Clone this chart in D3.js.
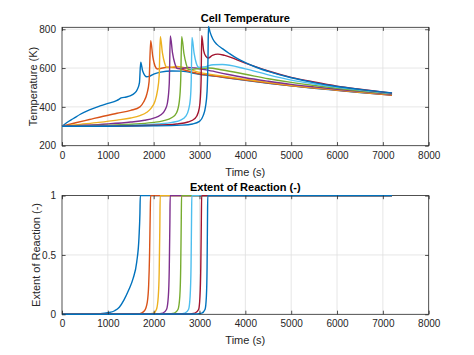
<!DOCTYPE html>
<html><head><meta charset="utf-8">
<script src="https://cdn.jsdelivr.net/npm/d3@7"></script>
<style>html,body{margin:0;padding:0;background:#fff;}svg{display:block;}</style>
</head><body>
<script>
// ---- data ----
const xTicks = [0,1000,2000,3000,4000,5000,6000,7000,8000];
const tempTicks = [200,400,600,800];
const reacTicks = [0,0.5,1];
const seriesColors = ["#0072BD","#D95319","#EDB120","#7E2F8E","#77AC30","#4DBEEE","#A2142F","#0072BD"];

const temp1 = [[0,300],[100,318],[250,340],[400,362],[600,385],[830,405],[1000,418],[1190,432],[1250,440],[1290,446],[1400,451],[1500,458],[1580,470],[1640,488],[1690,525],[1717,630],[1760,585],[1850,555],[1900,557],[2000,569],[2150,579],[2400,585],[2600,584],[3000,568],[3500,553],[4000,537],[4500,522],[5000,508],[5500,496],[6000,485],[6500,474],[7200,461]];
const temp2 = [[0,300],[300,318],[600,335],[900,352],[1200,367],[1500,382],[1700,400],[1780,425],[1850,465],[1900,530],[1935,741],[1980,660],[2030,610],[2080,595],[2150,598],[2300,604],[2450,602],[2600,594],[3000,570],[3500,554],[4000,538],[4500,523],[5000,509],[5500,497],[6000,486],[6500,475],[7200,460]];
const temp3 = [[0,300],[400,310],[800,320],[1200,332],[1500,343],[1700,355],[1850,372],[1950,395],[2030,430],[2080,480],[2120,560],[2145,762],[2190,680],[2240,625],[2290,603],[2380,605],[2500,608],[2650,603],[3000,578],[3500,559],[4000,542],[4500,526],[5000,511],[5500,499],[6000,488],[6500,477],[7200,463]];
const temp4 = [[0,300],[500,305],[1000,312],[1500,322],[1800,331],[2000,342],[2150,358],[2250,385],[2300,420],[2340,520],[2363,765],[2410,680],[2460,625],[2520,598],[2600,598],[2750,603],[2900,600],[3200,588],[3600,568],[4000,550],[4500,532],[5000,516],[5500,503],[6000,491],[6500,480],[7200,465]];
const temp5 = [[0,300],[600,303],[1200,307],[1700,313],[2000,320],[2200,328],[2400,345],[2500,370],[2560,430],[2590,540],[2611,762],[2660,675],[2710,620],[2760,592],[2850,593],[3000,598],[3200,600],[3500,590],[4000,568],[4500,545],[5000,526],[5500,510],[6000,496],[6500,483],[7200,467]];
const temp6 = [[0,300],[800,302],[1600,306],[2100,312],[2400,320],[2600,333],[2700,352],[2760,385],[2800,440],[2820,540],[2836,758],[2880,680],[2930,625],[2990,603],[3100,606],[3300,617],[3500,618],[4000,596],[4500,565],[5000,538],[5500,518],[6000,501],[6500,487],[7200,469]];
const temp7 = [[0,300],[1000,301],[2000,305],[2500,312],[2750,322],[2900,340],[2970,370],[3010,420],[3035,540],[3048,767],[3090,690],[3140,660],[3190,652],[3280,665],[3400,672],[3550,665],[4000,625],[4500,585],[5000,552],[5500,528],[6000,507],[6500,491],[7200,471]];
const temp8 = [[0,300],[1000,300],[2000,302],[2600,306],[2850,312],[3000,325],[3080,355],[3130,400],[3165,480],[3185,650],[3195,815],[3230,785],[3290,750],[3380,722],[3500,700],[3650,675],[3800,652],[4000,628],[4250,603],[4500,583],[5000,550],[5500,525],[6000,505],[6500,490],[7200,472]];

const reac1 = [[0,0],[500,0.001],[800,0.005],[1000,0.013],[1150,0.03],[1250,0.06],[1350,0.12],[1450,0.2],[1550,0.3],[1630,0.44],[1680,0.65],[1700,0.85],[1708,1],[7200,1]];
const reac2 = [[0,0],[1500,0.001],[1700,0.006],[1800,0.03],[1860,0.1],[1890,0.24],[1910,0.5],[1925,0.85],[1933,1],[7200,1]];
const reac3 = [[0,0],[1800,0.002],[2000,0.01],[2060,0.04],[2100,0.15],[2120,0.35],[2135,0.75],[2142,1],[7200,1]];
const reac4 = [[0,0],[2000,0.002],[2200,0.01],[2280,0.04],[2320,0.15],[2340,0.38],[2354,0.78],[2360,1],[7200,1]];
const reac5 = [[0,0],[2250,0.002],[2450,0.01],[2530,0.04],[2570,0.15],[2590,0.4],[2602,0.8],[2608,1],[7200,1]];
const reac6 = [[0,0],[2500,0.002],[2680,0.01],[2760,0.04],[2795,0.15],[2815,0.4],[2826,0.8],[2832,1],[7200,1]];
const reac7 = [[0,0],[2700,0.002],[2900,0.01],[2980,0.04],[3010,0.15],[3028,0.4],[3040,0.8],[3046,1],[7200,1]];
const reac8 = [[0,0],[2850,0.002],[3050,0.01],[3120,0.04],[3150,0.15],[3165,0.4],[3174,0.8],[3180,1],[7200,1]];

const tempData = [temp1,temp2,temp3,temp4,temp5,temp6,temp7,temp8];
const reacData = [reac1,reac2,reac3,reac4,reac5,reac6,reac7,reac8];

// ---- drawing ----
const W = 474, H = 355;
const font = "'Liberation Sans', Arial, Helvetica, sans-serif";
const ink = "#262626";
const svg = d3.select("body").append("svg").attr("width", W).attr("height", H)
  .style("font-family", font);

function panel(cfg) {
  const {top, bottom, yDomain, yTickVals, yFmt, data, title, ylabel, clipId, ylabelX} = cfg;
  const x = d3.scaleLinear().domain([0, 8000]).range([62, 428.7]);
  const y = d3.scaleLinear().domain(yDomain).range([bottom, top]);
  const g = svg.append("g");
  // grid
  g.append("g").selectAll("line").data(xTicks.slice(1, -1)).join("line")
    .attr("x1", d => x(d)).attr("x2", d => x(d)).attr("y1", top).attr("y2", bottom)
    .attr("stroke", "#dfdfdf").attr("stroke-width", 0.8);
  g.append("g").selectAll("line").data(yTickVals.filter(v => y(v) > top + 1 && y(v) < bottom - 1)).join("line")
    .attr("x1", 62).attr("x2", 428.7).attr("y1", d => y(d)).attr("y2", d => y(d))
    .attr("stroke", "#dfdfdf").attr("stroke-width", 0.8);
  // frame under lines
  g.append("rect").attr("x", 62).attr("y", top).attr("width", 366.7).attr("height", bottom - top)
    .attr("fill", "none").attr("stroke", ink).attr("stroke-width", 0.8);
  // clip
  svg.append("clipPath").attr("id", clipId).append("rect")
    .attr("x", 61).attr("y", top - 2).attr("width", 369).attr("height", bottom - top + 4);
  const line = d3.line().x(d => x(d[0])).y(d => y(d[1])).curve(d3.curveMonotoneX);
  g.append("g").attr("clip-path", `url(#${clipId})`).selectAll("path").data(data).join("path")
    .attr("d", line).attr("fill", "none")
    .attr("stroke", (d, i) => seriesColors[i]).attr("stroke-width", 1.4)
    .attr("stroke-linejoin", "round");
  // axes
  const axB = g.append("g").attr("transform", `translate(0,${bottom})`)
    .call(d3.axisBottom(x).tickValues(xTicks).tickSize(-3.6).tickPadding(6).tickFormat(d3.format("d")));
  const axT = g.append("g").attr("transform", `translate(0,${top})`)
    .call(d3.axisTop(x).tickValues(xTicks).tickSize(-3.6).tickFormat(""));
  const axL = g.append("g").attr("transform", `translate(62,0)`)
    .call(d3.axisLeft(y).tickValues(yTickVals).tickSize(-3.6).tickPadding(6).tickFormat(yFmt));
  const axR = g.append("g").attr("transform", `translate(428.7,0)`)
    .call(d3.axisRight(y).tickValues(yTickVals).tickSize(-3.6).tickFormat(""));
  [axB, axT, axL, axR].forEach(a => {
    a.select(".domain").remove();
    a.selectAll("line").attr("stroke", ink).attr("stroke-width", 0.8);
    a.selectAll("text").attr("fill", ink).style("font-family", font).style("font-size", "10px");
  });
  // title & labels
  g.append("text").attr("x", 245.3).attr("y", top - 5).attr("text-anchor", "middle")
    .attr("font-weight", "bold").attr("font-size", 11).attr("fill", "#000").text(title);
  g.append("text").attr("x", 245.3).attr("y", bottom + 30).attr("text-anchor", "middle")
    .attr("font-size", 11).attr("fill", ink).text("Time (s)");
  g.append("text").attr("transform", `translate(${ylabelX},${(top + bottom) / 2}) rotate(-90)`)
    .attr("text-anchor", "middle").attr("font-size", 11).attr("fill", ink).text(ylabel);
}

panel({top: 27.3, bottom: 145.7, yDomain: [200, 810], yTickVals: tempTicks, yFmt: d3.format("d"),
  data: tempData, title: "Cell Temperature", ylabel: "Temperature (K)", clipId: "c1", ylabelX: 37});
panel({top: 195.6, bottom: 314.3, yDomain: [0, 1], yTickVals: reacTicks, yFmt: d => d === 0.5 ? "0.5" : String(d),
  data: reacData, title: "Extent of Reaction (-)", ylabel: "Extent of Reaction (-)", clipId: "c2", ylabelX: 40});
</script>
</body></html>
